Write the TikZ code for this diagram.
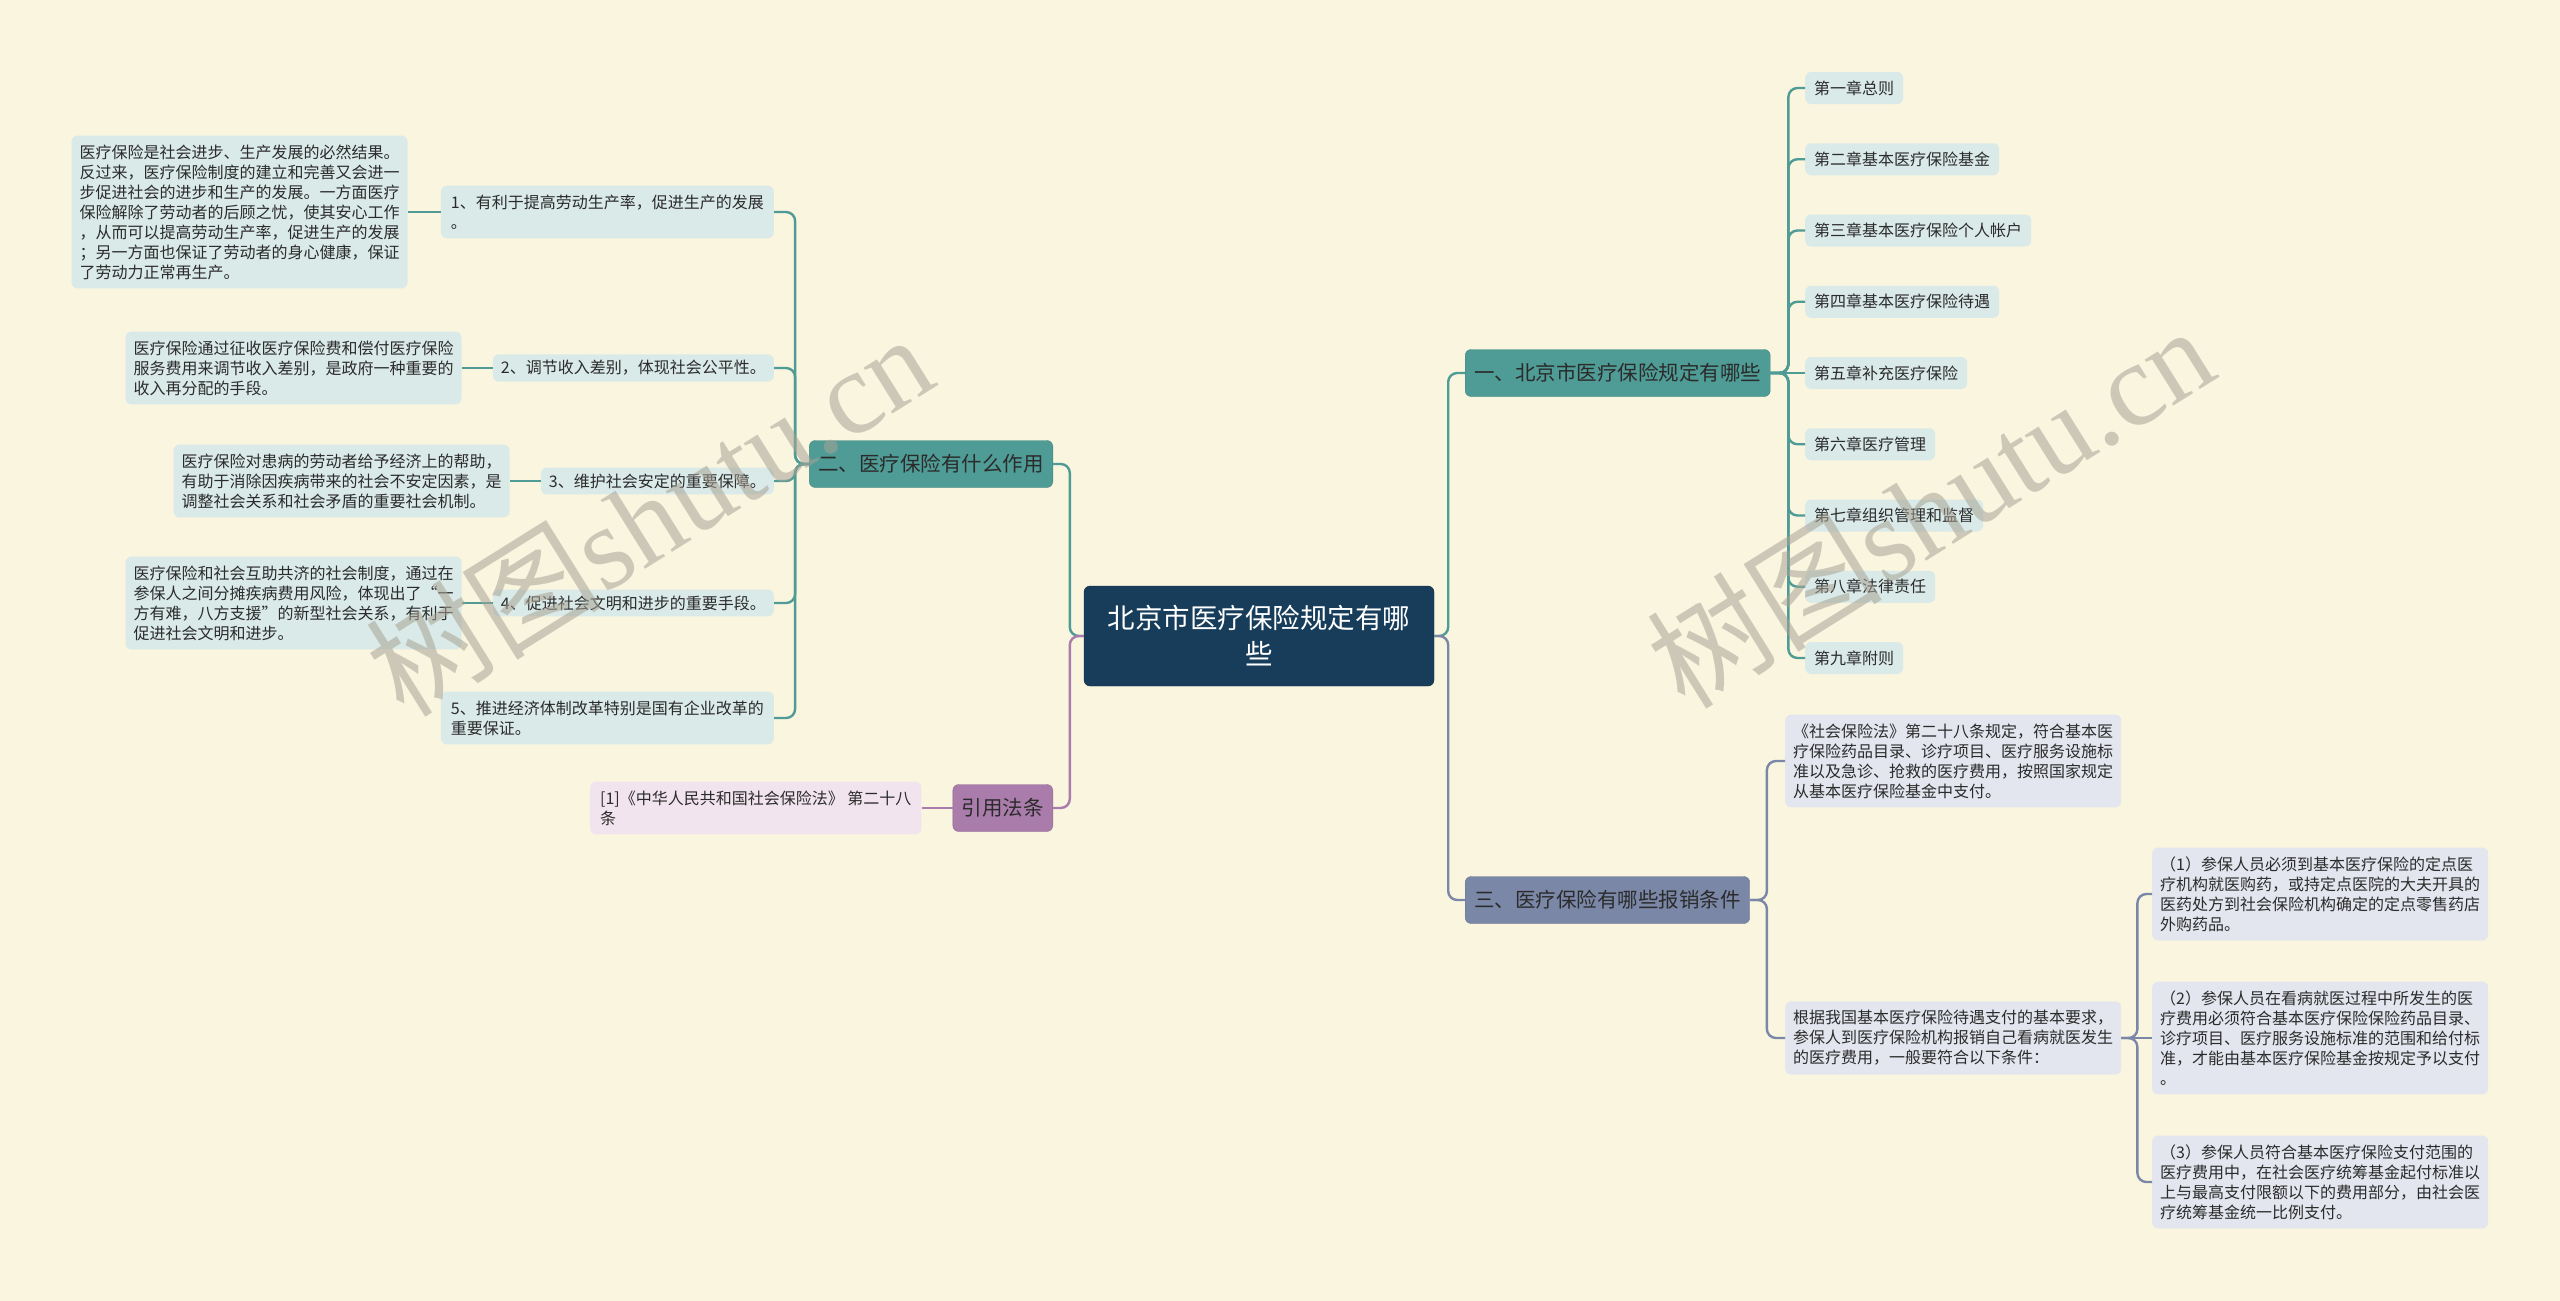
\documentclass[tikz,border=0pt]{standalone}
\usepackage{fontspec}
\setmainfont{Noto Sans CJK SC}
\newfontfamily\latinserif{Liberation Serif}
\usetikzlibrary{positioning}
\definecolor{bgcream}{HTML}{FAF5DF}
\definecolor{navy}{HTML}{173D5B}
\definecolor{tealbr}{HTML}{4F9B95}
\definecolor{slatebr}{HTML}{7A87A7}
\definecolor{mauvebr}{HTML}{A97CAB}
\definecolor{tealleaf}{HTML}{DAEAE8}
\definecolor{slateleaf}{HTML}{E3E6EE}
\definecolor{mauveleaf}{HTML}{F1E4EE}
\definecolor{inktext}{HTML}{2B2B2B}
\definecolor{wmgray}{HTML}{A8A396}

\begin{document}
\begin{tikzpicture}[x=1pt,y=-1pt,
  box/.style={rounded corners=6pt, align=left, text=inktext, inner xsep=8pt,
    inner ysep=9pt, font=\fontsize{16}{20}\selectfont},
  root/.style={box, fill=navy, draw=navy!70!black, text=white, align=center,
    minimum width=350pt, minimum height=100pt, font=\fontsize{27.5}{36}\selectfont},
  branch/.style={box, fill=#1, draw=#1!85!black, minimum height=47pt,
    inner ysep=4pt, inner xsep=9pt, font=\fontsize{20.5}{24}\selectfont},
  leaf/.style={box, fill=#1},
  chap/.style={box, fill=tealleaf, minimum height=32pt, inner ysep=4pt, inner xsep=9pt},
  link/.style={draw=#1, line width=2.4pt, rounded corners=9pt},
  wmark/.style={text=wmgray, opacity=0.55, font=\fontsize{118}{118}\selectfont}]

\fill[bgcream] (0,0) rectangle (2560,1301);

\node[root] (root) at (1259,636) {北京市医疗保险规定有哪\\些};

\node[branch=tealbr, anchor=west] (b1) at (1465,373) {一、北京市医疗保险规定有哪些};
\node[branch=slatebr, anchor=west] (b3) at (1465,900) {三、医疗保险有哪些报销条件};
\node[branch=tealbr, anchor=east] (b2) at (1053,464) {二、医疗保险有什么作用};
\node[branch=mauvebr, anchor=east] (bref) at (1053,808) {引用法条};

% chapters
\foreach \t [count=\i] in {第一章总则, 第二章基本医疗保险基金, 第三章基本医疗保险个人帐户,
    第四章基本医疗保险待遇, 第五章补充医疗保险, 第六章医疗管理, 第七章组织管理和监督,
    第八章法律责任, 第九章附则}
  \node[chap, anchor=west] (ch\i) at (1805,{88+71.25*(\i-1)}) {\t};

% roles of insurance
\node[leaf=tealleaf, anchor=east, inner xsep=10pt] (c1) at (774,212) {1、有利于提高劳动生产率，促进生产的发展\\。};
\node[leaf=tealleaf, anchor=east, inner ysep=6pt] (c2) at (774,368) {2、调节收入差别，体现社会公平性。};
\node[leaf=tealleaf, anchor=east, inner ysep=6pt] (c3) at (774,481) {3、维护社会安定的重要保障。};
\node[leaf=tealleaf, anchor=east, inner ysep=6pt] (c4) at (774,603) {4、促进社会文明和进步的重要手段。};
\node[leaf=tealleaf, anchor=east, inner xsep=10pt] (c5) at (774,718) {5、推进经济体制改革特别是国有企业改革的\\重要保证。};

\node[leaf=tealleaf, anchor=east, left=33pt of c1] (d1) {医疗保险是社会进步、生产发展的必然结果。\\反过来，医疗保险制度的建立和完善又会进一\\步促进社会的进步和生产的发展。一方面医疗\\保险解除了劳动者的后顾之忧，使其安心工作\\，从而可以提高劳动生产率，促进生产的发展\\；另一方面也保证了劳动者的身心健康，保证\\了劳动力正常再生产。};
\node[leaf=tealleaf, anchor=east, left=31pt of c2] (d2) {医疗保险通过征收医疗保险费和偿付医疗保险\\服务费用来调节收入差别，是政府一种重要的\\收入再分配的手段。};
\node[leaf=tealleaf, anchor=east, left=31pt of c3] (d3) {医疗保险对患病的劳动者给予经济上的帮助，\\有助于消除因疾病带来的社会不安定因素，是\\调整社会关系和社会矛盾的重要社会机制。};
\node[leaf=tealleaf, anchor=east, left=31pt of c4] (d4) {医疗保险和社会互助共济的社会制度，通过在\\参保人之间分摊疾病费用风险，体现出了“一\\方有难，八方支援”的新型社会关系，有利于\\促进社会文明和进步。};

\node[leaf=mauveleaf, anchor=east, left=31pt of bref, inner xsep=10pt] (ref) {[1]《中华人民共和国社会保险法》 第二十八\\条};

% reimbursement conditions
\node[leaf=slateleaf, anchor=west] (e1) at (1785,761) {《社会保险法》第二十八条规定，符合基本医\\疗保险药品目录、诊疗项目、医疗服务设施标\\准以及急诊、抢救的医疗费用，按照国家规定\\从基本医疗保险基金中支付。};
\node[leaf=slateleaf, anchor=west] (e2) at (1785,1038) {根据我国基本医疗保险待遇支付的基本要求，\\参保人到医疗保险机构报销自己看病就医发生\\的医疗费用，一般要符合以下条件：};
\node[leaf=slateleaf, anchor=west] (f1) at (2152,894) {（1）参保人员必须到基本医疗保险的定点医\\疗机构就医购药，或持定点医院的大夫开具的\\医药处方到社会保险机构确定的定点零售药店\\外购药品。};
\node[leaf=slateleaf, anchor=west] (f2) at (2152,1038) {（2）参保人员在看病就医过程中所发生的医\\疗费用必须符合基本医疗保险保险药品目录、\\诊疗项目、医疗服务设施标准的范围和给付标\\准，才能由基本医疗保险基金按规定予以支付\\。};
\node[leaf=slateleaf, anchor=west] (f3) at (2152,1182) {（3）参保人员符合基本医疗保险支付范围的\\医疗费用中，在社会医疗统筹基金起付标准以\\上与最高支付限额以下的费用部分，由社会医\\疗统筹基金统一比例支付。};

% connectors
\draw[link=tealbr] (root.east) -- ++(14,0) |- (b1.west);
\draw[link=slatebr] (root.east) -- ++(14,0) |- (b3.west);
\draw[link=tealbr] (root.west) -- ++(-14,0) |- (b2.east);
\draw[link=mauvebr] (root.west) -- ++(-14,0) |- (bref.east);
\foreach \i in {1,2,3,4,6,7,8,9}
  \draw[link=tealbr] (b1.east) -- ++(18,0) |- (ch\i.west);
\draw[link=tealbr] (b1.east) -- (ch5.west);
\foreach \i in {1,...,5}
  \draw[link=tealbr] (b2.west) -- ++(-14,0) |- (c\i.east);
\foreach \i in {1,...,4}
  \draw[link=tealbr] (c\i.west) -- (d\i.east);
\draw[link=mauvebr] (bref.west) -- (ref.east);
\foreach \i in {1,2}
  \draw[link=slatebr] (b3.east) -- ++(17,0) |- (e\i.west);
\foreach \i in {1,3}
  \draw[link=slatebr] (e2.east) -- ++(16,0) |- (f\i.west);
\draw[link=slatebr] (e2.east) -- (f2.west);

% watermark
\node[wmark, rotate=32] (wm1) at (649,514) {树图{\latinserif shutu.cn}};
\node[wmark, rotate=32] (wm2) at (1930,506) {树图{\latinserif shutu.cn}};
\end{tikzpicture}
\end{document}
